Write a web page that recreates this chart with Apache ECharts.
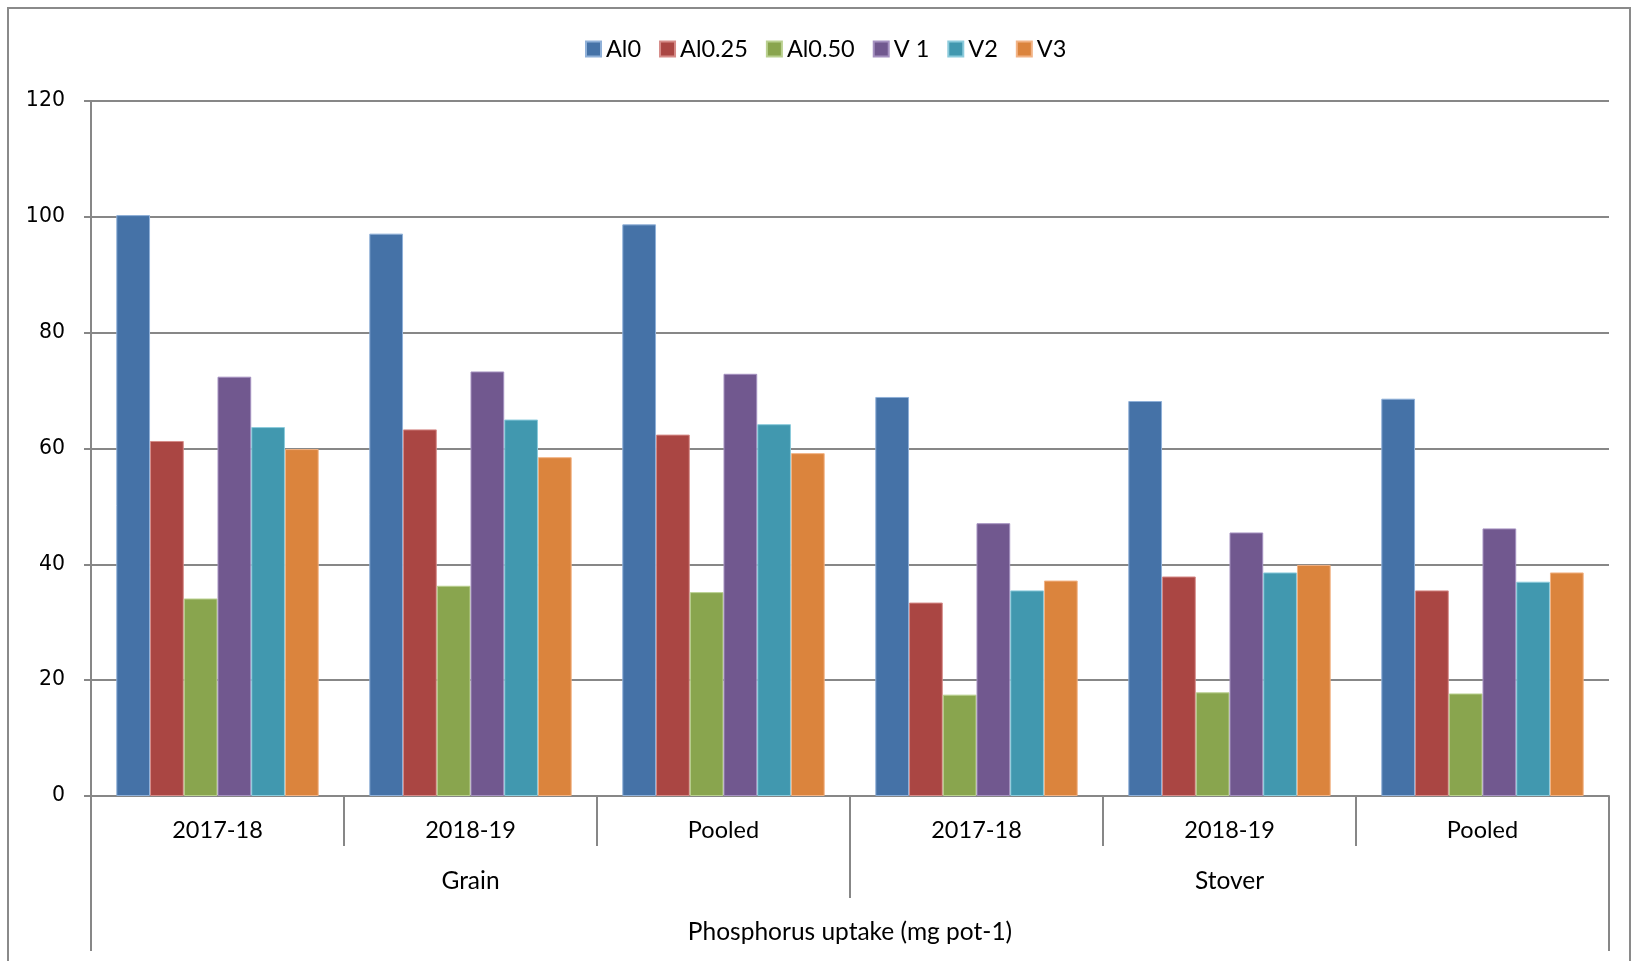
<!DOCTYPE html>
<html>
<head>
<meta charset="utf-8">
<script src="https://cdn.jsdelivr.net/npm/echarts@6/dist/echarts.min.js"></script>
<style>
html,body{margin:0;padding:0;background:#fff;}
#c{width:1638px;height:961px;}
</style>
</head>
<body>
<div id="c"></div>
<script>
const categories = ['2017-18', '2018-19', 'Pooled', '2017-18', '2018-19', 'Pooled'];
const groups = ['Grain', 'Stover'];
const axisTitle = ['Phosphorus uptake (mg pot-1)'];
const seriesNames = ['Al0', 'Al0.25', 'Al0.50', 'V 1', 'V2', 'V3'];
const al0   = [100.3, 97.1, 98.7, 68.9, 68.2, 68.6];
const al025 = [61.3, 63.3, 62.4, 33.4, 37.9, 35.5];
const al050 = [34.1, 36.3, 35.2, 17.5, 17.9, 17.7];
const v1    = [72.4, 73.3, 72.9, 47.1, 45.5, 46.2];
const v2    = [63.7, 65.0, 64.2, 35.5, 38.6, 37.0];
const v3    = [59.9, 58.5, 59.2, 37.2, 39.9, 38.6];
const yTicks = [0, 20, 40, 60, 80, 100, 120];

const colors = ['#4572A7', '#AA4643', '#89A54E', '#71588F', '#4198AF', '#DB843D'];
const borders = ['#8fb0d8', '#d68b88', '#b9d08f', '#a591c0', '#8ccbdc', '#f2b385'];
const values = [al0, al025, al050, v1, v2, v3];

const chart = echarts.init(document.getElementById('c'));
const gridCol = '#878787';
const catFont = 'Lato, "Open Sans", sans-serif';

chart.setOption({
  animation: false,
  color: colors,
  graphic: [{
    type: 'rect',
    shape: {x: 8, y: 8, width: 1622, height: 990},
    style: {fill: 'none', stroke: '#8a8a8a', lineWidth: 2},
    silent: true
  }],
  legend: {
    left: 580, top: 32,
    itemWidth: 15, itemHeight: 15, itemGap: 18,
    icon: 'rect',
    textStyle: {fontFamily: catFont, fontSize: 23.5, color: '#000'},
    data: seriesNames
  },
  grid: {left: 91, right: 29, top: 101, bottom: 165, containLabel: false},
  xAxis: [{
    type: 'category', position: 'bottom', data: categories,
    axisLine: {show: true, lineStyle: {color: gridCol, width: 2}},
    axisTick: {show: true, interval: 0, length: 50, lineStyle: {color: gridCol, width: 2}},
    axisLabel: {interval: 0, margin: 22, fontFamily: catFont, fontSize: 23.5, color: '#000'}
  }, {
    type: 'category', position: 'bottom', data: groups,
    axisLine: {show: false},
    axisTick: {show: true, interval: 0, length: 102, lineStyle: {color: gridCol, width: 2}},
    axisLabel: {interval: 0, margin: 73, fontFamily: catFont, fontSize: 24.5, color: '#000'}
  }, {
    type: 'category', position: 'bottom', data: axisTitle,
    axisLine: {show: false},
    axisTick: {show: true, interval: 0, length: 155, lineStyle: {color: gridCol, width: 2}},
    axisLabel: {interval: 0, margin: 124, fontFamily: catFont, fontSize: 24.5, color: '#000'}
  }],
  yAxis: {
    type: 'value', min: yTicks[0], max: yTicks[yTicks.length - 1], interval: 20,
    axisLine: {show: true, lineStyle: {color: gridCol, width: 2}},
    axisTick: {show: true, length: 7, lineStyle: {color: gridCol, width: 2}},
    axisLabel: {margin: 26, fontFamily: '"DejaVu Sans", Verdana, sans-serif', fontSize: 20.5, color: '#000'},
    splitLine: {show: true, lineStyle: {color: gridCol, width: 2}}
  },
  series: seriesNames.map((n, i) => ({
    name: n, type: 'bar', xAxisIndex: 0,
    data: values[i],
    barGap: '0%', barCategoryGap: '20%',
    itemStyle: {color: colors[i], borderColor: borders[i], borderWidth: 1}
  }))
});
</script>
</body>
</html>
